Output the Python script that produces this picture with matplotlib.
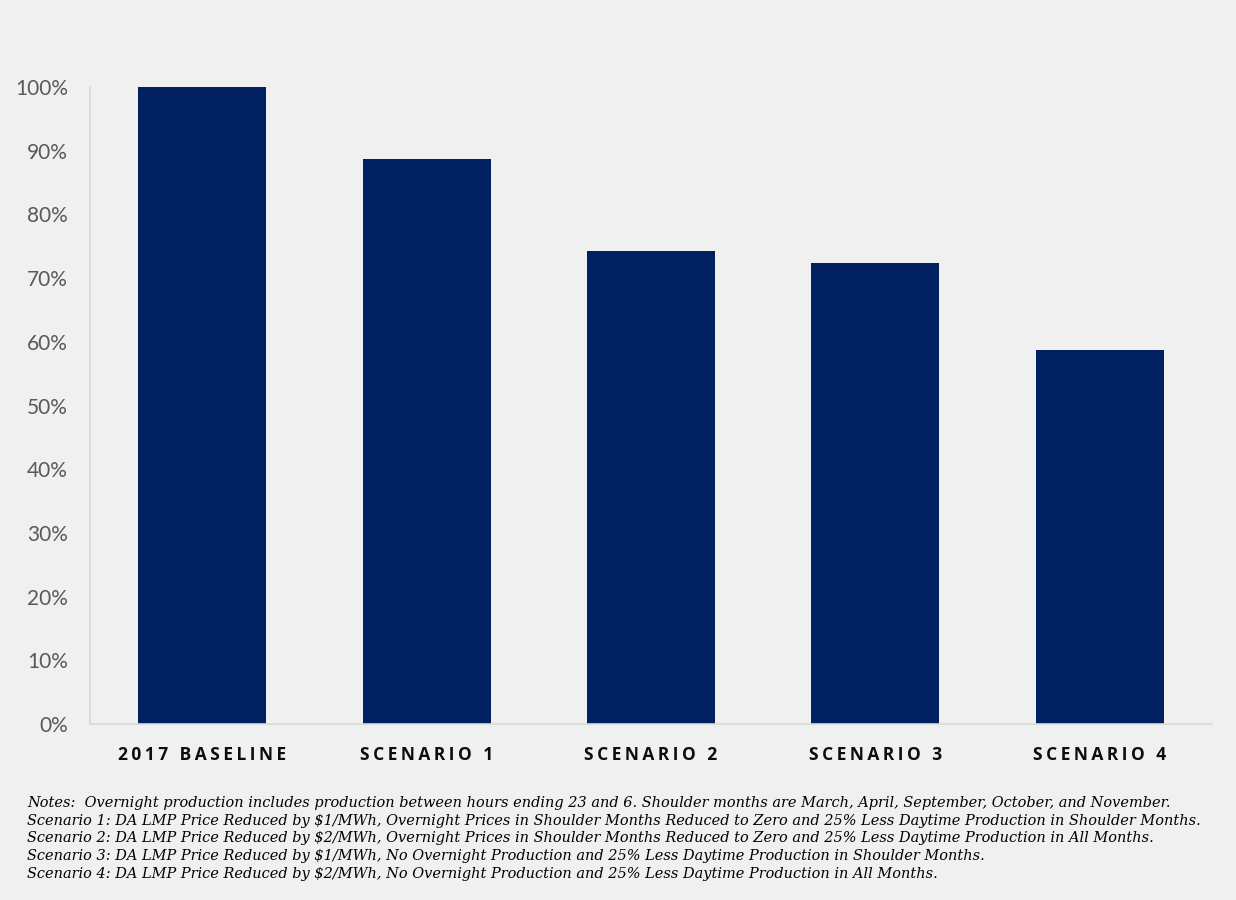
import matplotlib
matplotlib.use("Agg")
import matplotlib.pyplot as plt

categories = ["2017 BASELINE", "SCENARIO 1", "SCENARIO 2", "SCENARIO 3", "SCENARIO 4"]
values = [100.0, 88.7, 74.3, 72.4, 58.7]
yticks = list(range(0, 101, 10))

notes = [
    "Notes:  Overnight production includes production between hours ending 23 and 6. Shoulder months are March, April, September, October, and November.",
    "Scenario 1: DA LMP Price Reduced by $1/MWh, Overnight Prices in Shoulder Months Reduced to Zero and 25% Less Daytime Production in Shoulder Months.",
    "Scenario 2: DA LMP Price Reduced by $2/MWh, Overnight Prices in Shoulder Months Reduced to Zero and 25% Less Daytime Production in All Months.",
    "Scenario 3: DA LMP Price Reduced by $1/MWh, No Overnight Production and 25% Less Daytime Production in Shoulder Months.",
    "Scenario 4: DA LMP Price Reduced by $2/MWh, No Overnight Production and 25% Less Daytime Production in All Months.",
]

bg = "#f0f0f0"
fig = plt.figure(figsize=(12.36, 9), dpi=100, facecolor=bg)
ax = fig.add_axes([90 / 1236, 1 - 724 / 900, (1212 - 90) / 1236, (724 - 87) / 900])
ax.set_facecolor(bg)

x = range(len(categories))
ax.bar(x, values, width=0.57, color="#002060")
ax.set_xlim(-0.5, len(categories) - 0.5)
ax.set_ylim(0, 100)

ax.set_yticks(yticks)
ax.set_yticklabels([f"{t}%" for t in yticks], fontsize=15, color="#595959", fontfamily="Lato")
ax.set_xticks(list(x))
spaced = ["\u2009".join(c) for c in categories]
ax.set_xticklabels(spaced, fontsize=12.5, fontweight="bold", color="#0d0d0d",
                   family=["Open Sans", "DejaVu Sans"])
ax.tick_params(axis="both", length=0)
ax.tick_params(axis="y", pad=16)
ax.tick_params(axis="x", pad=16)

for s in ["top", "right"]:
    ax.spines[s].set_visible(False)
for s in ["left", "bottom"]:
    ax.spines[s].set_color("#d9d9d9")
    ax.spines[s].set_linewidth(1.2)

for i, line in enumerate(notes):
    fig.text(27 / 1236, 1 - (803 + i * 17.7) / 900, line, fontsize=10.45, style="italic",
             family="DejaVu Serif", va="center", ha="left", color="#000000")

fig.savefig("out.png", dpi=100, facecolor=bg)
